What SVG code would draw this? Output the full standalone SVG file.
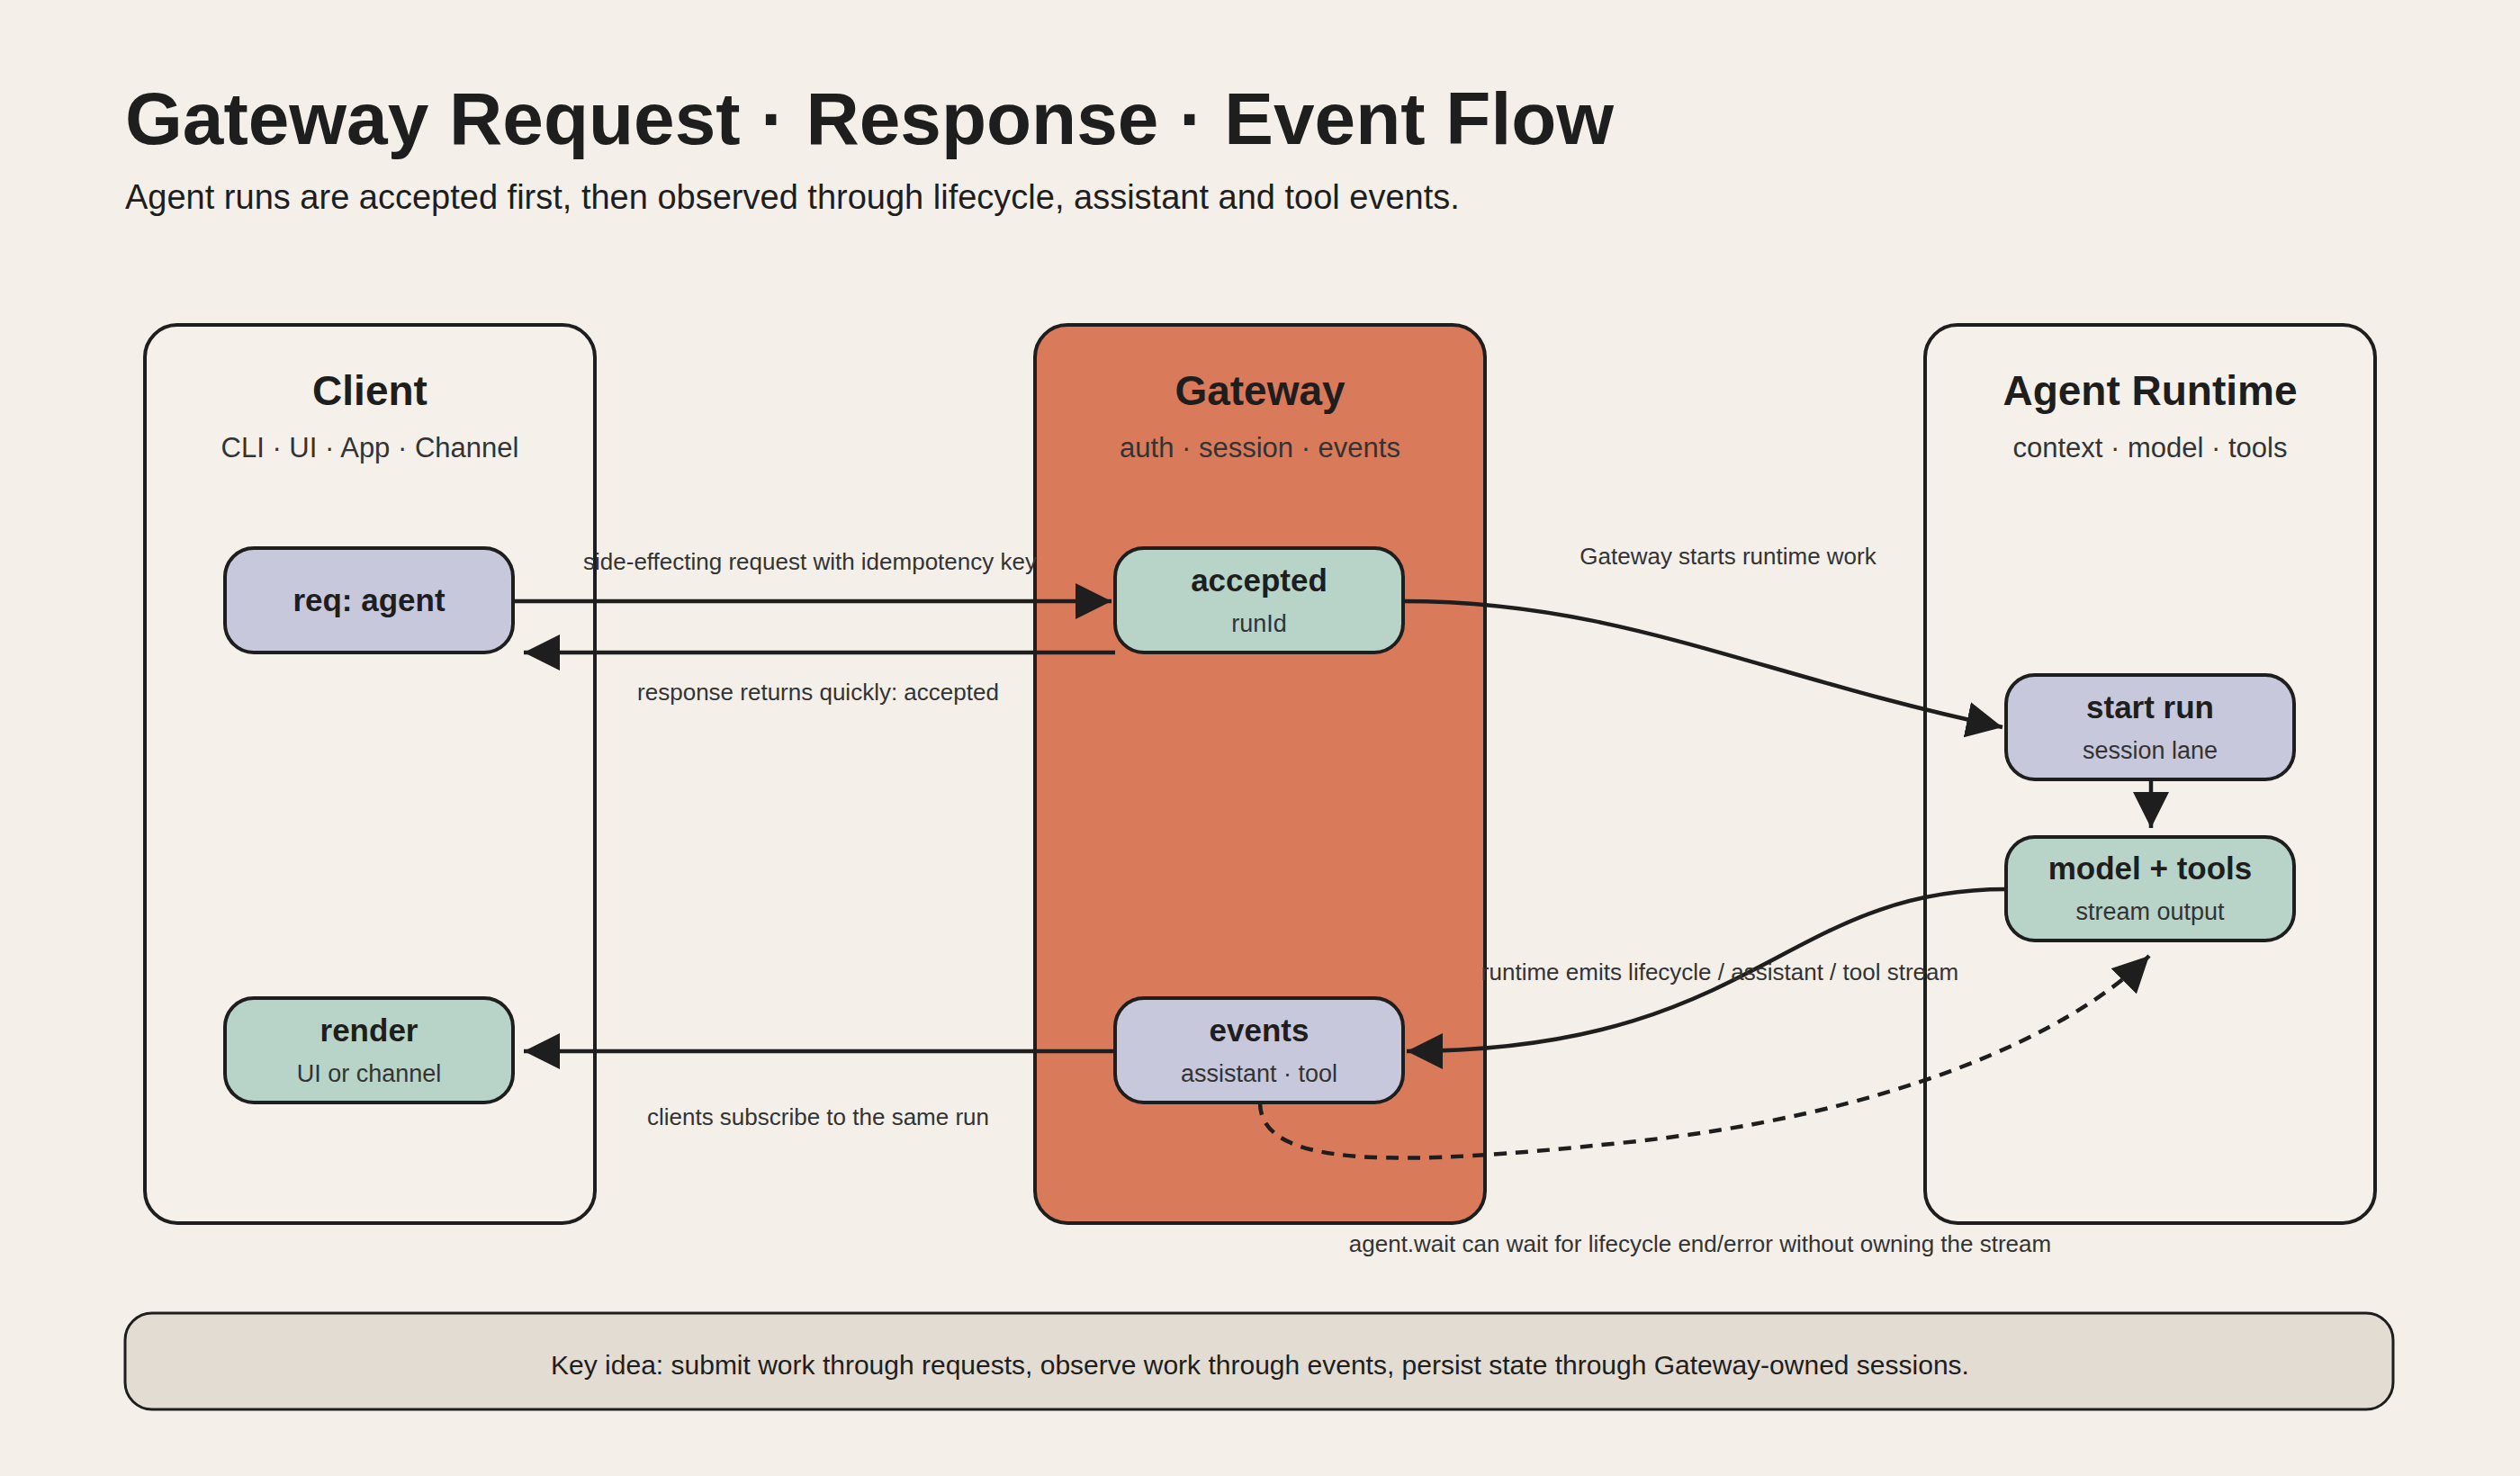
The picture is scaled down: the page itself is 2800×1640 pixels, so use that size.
<svg xmlns="http://www.w3.org/2000/svg" width="2800" height="1640" viewBox="0 0 2800 1640">
<style>
text{font-family:"Liberation Sans",Arial,sans-serif;fill:#1e1e1e}
.panel{fill:#F5F1EA;stroke:#1e1e1e;stroke-width:4}
.pt{font-size:46px;font-weight:bold;text-anchor:middle}
.ps{font-size:31px;text-anchor:middle;fill:#333}
.n{stroke:#1e1e1e;stroke-width:4}
.lav{fill:#C8C8DC}.grn{fill:#B8D4C8}
.nt{font-size:35px;font-weight:bold;text-anchor:middle}
.ns{font-size:27px;text-anchor:middle;fill:#333}
.e{fill:none;stroke:#1e1e1e;stroke-width:4.5}
.l{font-size:26px;text-anchor:middle;fill:#333}
</style>
<defs>
<marker id="a" markerUnits="userSpaceOnUse" markerWidth="44" markerHeight="40" refX="40" refY="20" orient="auto"><path d="M0 0L40 20L0 40z" fill="#1e1e1e"/></marker>
</defs>
<rect width="2800" height="1640" fill="#F4F0E9"/>
<text x="139" y="160" font-size="82" font-weight="bold">Gateway Request · Response · Event Flow</text>
<text x="139" y="232" font-size="38" fill="#333">Agent runs are accepted first, then observed through lifecycle, assistant and tool events.</text>
<g id="client"><rect class="panel" x="161" y="361" width="500" height="998" rx="36"/><text class="pt" x="411" y="450">Client</text><text class="ps" x="411" y="508">CLI · UI · App · Channel</text></g>
<g id="gateway"><rect class="panel" x="1150" y="361" width="500" height="998" rx="36" fill="#D97A5B" style="fill:#D97A5B"/><text class="pt" x="1400" y="450">Gateway</text><text class="ps" x="1400" y="508">auth · session · events</text></g>
<g id="runtime"><rect class="panel" x="2139" y="361" width="500" height="998" rx="36"/><text class="pt" x="2389" y="450">Agent Runtime</text><text class="ps" x="2389" y="508">context · model · tools</text></g>
<g id="req"><rect class="n lav" x="250" y="609" width="320" height="116" rx="32"/><text class="nt" x="410" y="679">req: agent</text></g>
<g id="accepted"><rect class="n grn" x="1239" y="609" width="320" height="116" rx="32"/><text class="nt" x="1399" y="657">accepted</text><text class="ns" x="1399" y="702">runId</text></g>
<g id="startrun"><rect class="n lav" x="2229" y="750" width="320" height="116" rx="32"/><text class="nt" x="2389" y="798">start run</text><text class="ns" x="2389" y="843">session lane</text></g>
<g id="model"><rect class="n grn" x="2229" y="930" width="320" height="115" rx="32"/><text class="nt" x="2389" y="977">model + tools</text><text class="ns" x="2389" y="1022">stream output</text></g>
<g id="render"><rect class="n grn" x="250" y="1109" width="320" height="116" rx="32"/><text class="nt" x="410" y="1157">render</text><text class="ns" x="410" y="1202">UI or channel</text></g>
<g id="events"><rect class="n lav" x="1239" y="1109" width="320" height="116" rx="32"/><text class="nt" x="1399" y="1157">events</text><text class="ns" x="1399" y="1202">assistant · tool</text></g>
<g id="connectors">
<path class="e" d="M570 668H1235" marker-end="url(#a)"/>
<path class="e" d="M1239 725H582" marker-end="url(#a)"/>
<path class="e" d="M1559 668C1800 668 1950 750 2225 808" marker-end="url(#a)"/>
<path class="e" d="M2390 866V920" marker-end="url(#a)"/>
<path class="e" d="M2229 988C1980 988 1950 1168 1563 1168" marker-end="url(#a)"/>
<path class="e" d="M1239 1168H582" marker-end="url(#a)"/>
<path class="e" stroke-dasharray="14 10" d="M1400 1225C1400 1300 1560 1295 1800 1270C2100 1240 2300 1150 2388 1062" marker-end="url(#a)"/>
<text class="l" x="900" y="633">side-effecting request with idempotency key</text>
<text class="l" x="909" y="778">response returns quickly: accepted</text>
<text class="l" x="1920" y="627">Gateway starts runtime work</text>
<text class="l" x="1911" y="1089">runtime emits lifecycle / assistant / tool stream</text>
<text class="l" x="909" y="1250">clients subscribe to the same run</text>
<text class="l" x="1889" y="1391">agent.wait can wait for lifecycle end/error without owning the stream</text>
</g>
<g id="footer"><rect x="139" y="1459" width="2520" height="107" rx="30" fill="#E3DCD2" stroke="#1e1e1e" stroke-width="3"/><text x="1400" y="1527" font-size="30" text-anchor="middle" fill="#333">Key idea: submit work through requests, observe work through events, persist state through Gateway-owned sessions.</text></g>
</svg>
